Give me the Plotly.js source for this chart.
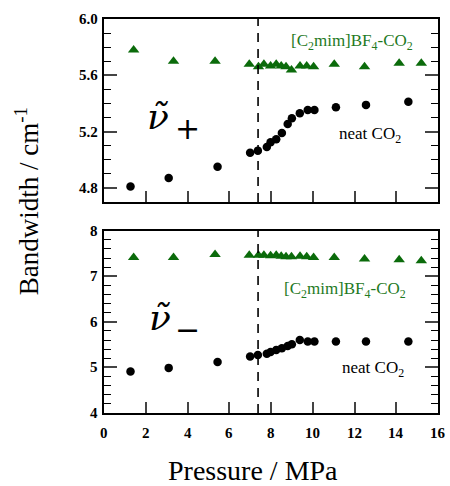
<!DOCTYPE html>
<html>
<head>
<meta charset="utf-8">
<script src="https://cdn.plot.ly/plotly-3.0.1.min.js"></script>
<style>html,body{margin:0;padding:0;background:#fff;}</style>
</head>
<body>
<div id="chart" style="width:450px;height:486px;"></div>
<script>
// Data (pressure in MPa, bandwidth in cm^-1)
const pressureNeat = [1.27, 3.10, 5.44, 7.00, 7.37, 7.80, 7.98, 8.25, 8.52, 8.80, 9.00, 9.38, 9.76, 10.08, 11.11, 12.55, 14.58];
const neatPlus     = [4.81, 4.87, 4.95, 5.05, 5.065, 5.09, 5.124, 5.146, 5.19, 5.254, 5.295, 5.33, 5.354, 5.354, 5.373, 5.39, 5.413];
const neatMinus    = [4.91, 4.99, 5.12, 5.24, 5.27, 5.30, 5.34, 5.38, 5.42, 5.47, 5.51, 5.60, 5.57, 5.57, 5.57, 5.57, 5.57];

const pressureIL   = [1.42, 3.33, 5.32, 6.96, 7.40, 7.66, 7.98, 8.25, 8.49, 8.72, 8.98, 9.39, 9.71, 10.04, 11.03, 12.48, 14.14, 15.20];
const ilPlus       = [5.78, 5.70, 5.70, 5.678, 5.66, 5.678, 5.666, 5.678, 5.666, 5.66, 5.638, 5.666, 5.666, 5.66, 5.678, 5.66, 5.685, 5.685];
const ilMinus      = [7.41, 7.41, 7.48, 7.46, 7.46, 7.46, 7.45, 7.46, 7.44, 7.43, 7.43, 7.44, 7.43, 7.41, 7.41, 7.38, 7.36, 7.34];

const criticalPressure = 7.38;
const xTickVals = [0, 2, 4, 6, 8, 10, 12, 14, 16];
const topTickVals = [4.8, 5.2, 5.6, 6.0];
const topTickText = ['4.8', '5.2', '5.6', '6.0'];
const bottomTickVals = [4, 5, 6, 7, 8];

const green = '#0b6b0b';
const textGreen = '#1f7a1f';
const serif = 'Liberation Serif';
const nuFont = 'DejaVu Serif';

const traces = [
  {x: pressureIL, y: ilPlus, xaxis: 'x2', yaxis: 'y', mode: 'markers', type: 'scatter',
   marker: {symbol: 'triangle-up', size: 10, color: green}},
  {x: pressureNeat, y: neatPlus, xaxis: 'x2', yaxis: 'y', mode: 'markers', type: 'scatter',
   marker: {symbol: 'circle', size: 8.5, color: '#000'}},
  {x: pressureIL, y: ilMinus, xaxis: 'x', yaxis: 'y2', mode: 'markers', type: 'scatter',
   marker: {symbol: 'triangle-up', size: 10, color: green}},
  {x: pressureNeat, y: neatMinus, xaxis: 'x', yaxis: 'y2', mode: 'markers', type: 'scatter',
   marker: {symbol: 'circle', size: 8.5, color: '#000'}}
];

function xAxis(anchor) {
  return {
    anchor: anchor, range: [0, 16], tickvals: xTickVals.slice(),
    ticks: 'inside', ticklen: 11, tickwidth: 1.5,
    showline: true, linewidth: 1.8, linecolor: '#000', mirror: true,
    showgrid: false, zeroline: false, showticklabels: false
  };
}

function yAxis(domain, range, vals, minorStep) {
  return {
    domain: domain, range: range, tickvals: vals.slice(),
    ticks: 'inside', ticklen: 13, tickwidth: 1.5,
    showline: true, linewidth: 1.8, linecolor: '#000', mirror: 'ticks',
    showgrid: false, zeroline: false, showticklabels: false,
    minor: {dtick: minorStep, tick0: range[0], ticks: 'inside', ticklen: 7, tickwidth: 1.3, tickcolor: '#000', showgrid: false}
  };
}

function ann(text, x, y, size, color, family, extra) {
  return Object.assign({text: text, xref: 'paper', yref: 'paper', x: x, y: y,
    xanchor: 'center', yanchor: 'middle', showarrow: false,
    font: {family: family, size: size, color: color}}, extra || {});
}

// Tick labels (bold serif), placed through the axes' own scales
const tickLabelAnns = [];
xTickVals.forEach(function (v) {
  tickLabelAnns.push({text: '<b>' + v + '</b>', xref: 'x', yref: 'paper', x: v, y: 0,
    xanchor: 'center', yanchor: 'top', yshift: -10, showarrow: false,
    font: {family: serif, size: 15, color: '#000'}});
});
topTickVals.forEach(function (v, i) {
  tickLabelAnns.push({text: '<b>' + topTickText[i] + '</b>', xref: 'paper', yref: 'y', x: 0, y: v,
    xanchor: 'right', yanchor: 'middle', xshift: -4, showarrow: false,
    font: {family: serif, size: 15, color: '#000'}});
});
bottomTickVals.forEach(function (v) {
  tickLabelAnns.push({text: '<b>' + v + '</b>', xref: 'paper', yref: 'y2', x: 0, y: v,
    xanchor: 'right', yanchor: 'middle', xshift: -4, showarrow: false,
    font: {family: serif, size: 15, color: '#000'}});
});

const layout = {
  width: 450, height: 486,
  margin: {l: 104, r: 12, t: 19, b: 73},
  paper_bgcolor: '#fff', plot_bgcolor: '#fff',
  font: {family: serif, size: 15, color: '#000'},
  showlegend: false,
  xaxis: xAxis('y2'),
  xaxis2: xAxis('y'),
  yaxis: yAxis([0.5355, 1], [4.7, 6.0], topTickVals, 0.1),
  yaxis2: yAxis([0, 0.4627], [4, 8], bottomTickVals, 0.2),
  shapes: [
    {type: 'line', xref: 'x2', yref: 'y domain', x0: criticalPressure, x1: criticalPressure, y0: 0, y1: 1,
     line: {color: '#000', width: 1.6, dash: '9px,7px'}},
    {type: 'line', xref: 'x', yref: 'y2 domain', x0: criticalPressure, x1: criticalPressure, y0: 0, y1: 1,
     line: {color: '#000', width: 1.6, dash: '9px,7px'}}
  ],
  annotations: [
    ann('[C<sub>2</sub>mim]BF<sub>4</sub>-CO<sub>2</sub>', 0.743, 0.942, 17, textGreen, serif),
    ann('neat CO<sub>2</sub>', 0.796, 0.706, 17, '#000', serif),
    ann('[C<sub>2</sub>mim]BF<sub>4</sub>-CO<sub>2</sub>', 0.722, 0.312, 17, textGreen, serif),
    ann('neat CO<sub>2</sub>', 0.805, 0.112, 17, '#000', serif),
    ann('<i>ν̃</i>', 0.162, 0.752, 36, '#000', nuFont),
    ann('+', 0.249, 0.721, 30, '#000', 'DejaVu Sans'),
    ann('<i>ν̃</i>', 0.168, 0.242, 36, '#000', nuFont),
    ann('−', 0.249, 0.213, 30, '#000', 'DejaVu Sans'),
    ann('Pressure / MPa', 0.446, -0.146, 28, '#000', serif),
    ann('Bandwidth / cm<sup>-1</sup>', -0.23, 0.538, 27, '#000', serif, {textangle: -90})
  ].concat(tickLabelAnns)
};

Plotly.newPlot('chart', traces, layout, {displayModeBar: false});
</script>
</body>
</html>
